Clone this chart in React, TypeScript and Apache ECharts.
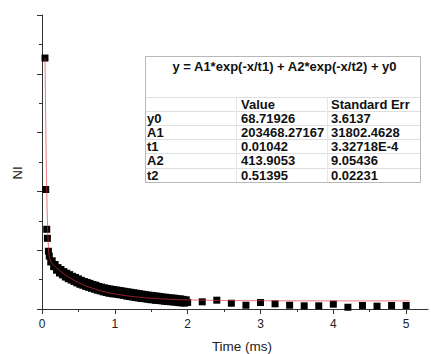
import React, { useEffect, useRef } from "react";
import * as echarts from "echarts";

// ---- data ----
const scatterX = [
  0.041, 0.051, 0.065, 0.074, 0.088,
  0.10, 0.12, 0.14, 0.16, 0.18, 0.20, 0.22, 0.24, 0.26, 0.28,
  0.30, 0.32, 0.34, 0.36, 0.38, 0.40, 0.42, 0.44, 0.46, 0.48,
  0.50, 0.52, 0.54, 0.56, 0.58, 0.60, 0.62, 0.64, 0.66, 0.68,
  0.70, 0.72, 0.74, 0.76, 0.78, 0.80, 0.82, 0.84, 0.86, 0.88,
  0.90, 0.92, 0.94, 0.96, 0.98, 1.00, 1.02, 1.04, 1.06, 1.08,
  1.10, 1.12, 1.14, 1.16, 1.18, 1.20, 1.22, 1.24, 1.26, 1.28,
  1.30, 1.32, 1.34, 1.36, 1.38, 1.40, 1.42, 1.44, 1.46, 1.48,
  1.50, 1.52, 1.54, 1.56, 1.58, 1.60, 1.62, 1.64, 1.66, 1.68,
  1.70, 1.72, 1.74, 1.76, 1.78, 1.80, 1.82, 1.84, 1.86, 1.88,
  1.90, 1.92, 1.94, 1.96, 1.98, 2.00,
  2.2, 2.4, 2.6, 2.8, 3.0, 3.2, 3.4, 3.6, 3.8, 4.0, 4.2, 4.4, 4.6, 4.8, 5.0,
];
const scatterY = [
  2134, 1016, 678, 601, 491,
  450, 400, 410, 360, 378, 330, 352, 306, 336, 290,
  318, 272, 304, 258, 292, 246, 278, 234, 268, 222,
  256, 210, 244, 202, 234, 192, 226, 184, 218, 176,
  208, 168, 202, 160, 192, 154, 186, 146, 180, 140,
  174, 134, 170, 130, 166, 128, 162, 124, 158, 120,
  154, 116, 150, 110, 146, 106, 142, 102, 138, 98,
  134, 94, 130, 90, 126, 88, 122, 84, 118, 80,
  116, 78, 112, 74, 110, 72, 106, 70, 102, 66,
  100, 64, 96, 62, 94, 60, 92, 58, 88, 54,
  86, 52, 82, 50, 78, 56,
  61, 75, 49, 32, 55, 44, 32, 27, 27, 41, 15, 30, 24, 30, 30,
];

const fitX = [
  0.041, 0.05, 0.06, 0.07, 0.08, 0.09, 0.10, 0.12, 0.14, 0.16, 0.18, 0.20,
  0.25, 0.30, 0.35, 0.40, 0.45, 0.50, 0.60, 0.70, 0.80, 0.90, 1.00, 1.20,
  1.40, 1.60, 1.80, 2.00, 2.50, 3.00, 4.00, 5.05,
];
const fitY = [
  2134, 1650, 1180, 850, 640, 500, 440, 405, 384, 372, 360, 349,
  323, 300, 278, 259, 241, 225, 197, 175, 156, 140, 128, 109,
  96, 87, 81, 77, 72, 70, 69, 69,
];

const xMajorTicks = [0, 1, 2, 3, 4, 5];
const xMinorTicks = [0.5, 1.5, 2.5, 3.5, 4.5];

const formulaText = "y = A1*exp(-x/t1) + A2*exp(-x/t2) + y0";
const tableHeaders = ["", "Value", "Standard Err"];
const paramNames = ["y0", "A1", "t1", "A2", "t2"];
const paramValues = ["68.71926", "203468.27167", "0.01042", "413.9053", "0.51395"];
const paramErrors = ["3.6137", "31802.4628", "3.32718E-4", "9.05436", "0.02231"];

const FONT = "'Liberation Sans', Arial, sans-serif";

export default function App() {
  const ref = useRef<HTMLDivElement>(null);

  useEffect(() => {
    if (!ref.current) return;
    const chart = echarts.init(ref.current, null, { renderer: "svg" });

    const scatterData = scatterX.map((x, i) => [x, scatterY[i]]);
    const fitData = fitX.map((x, i) => [x, fitY[i]]);

    // table geometry
    const tL = 145, tR = 420, tT = 56, tB = 182;
    const headerTop = 97;
    const rowH = 14.1;
    const colX = [147, 241, 331];
    const divX = [236.5, 327.5];
    const graphics: any[] = [];
    graphics.push({
      type: "rect",
      shape: { x: tL + 0.5, y: tT + 0.5, width: tR - tL, height: tB - tT },
      style: { fill: "#fff", stroke: "#b8b8b8", lineWidth: 1 },
      z: 10,
    });
    graphics.push({
      type: "text",
      style: {
        x: (tL + tR) / 2 + 2, y: 66, text: formulaText,
        font: `bold 13px ${FONT}`, fill: "#111",
        textAlign: "center", textVerticalAlign: "middle",
      },
      z: 11,
    });
    const rowLines = [headerTop];
    for (let i = 1; i <= paramNames.length; i++) rowLines.push(headerTop + rowH * i);
    rowLines.forEach((yy) => {
      const y = Math.round(yy) + 0.5;
      graphics.push({
        type: "line",
        shape: { x1: tL + 1, y1: y, x2: tR, y2: y },
        style: { stroke: "#dedede", lineWidth: 1 },
        z: 11,
      });
    });
    divX.forEach((x) => {
      graphics.push({
        type: "line",
        shape: { x1: x, y1: headerTop, x2: x, y2: tB },
        style: { stroke: "#e6e6e6", lineWidth: 1 },
        z: 11,
      });
    });
    const addText = (x: number, y: number, t: string) =>
      graphics.push({
        type: "text",
        style: {
          x, y, text: t, font: `bold 13px ${FONT}`, fill: "#111",
          textAlign: "left", textVerticalAlign: "middle",
        },
        z: 12,
      });
    tableHeaders.forEach((h, c) => { if (h) addText(colX[c], headerTop + rowH / 2 + 0.5, h); });
    paramNames.forEach((n, r) => {
      const y = headerTop + rowH * (r + 1) + rowH / 2 + 0.5;
      addText(colX[0], y, n);
      addText(colX[1], y, paramValues[r]);
      addText(colX[2], y, paramErrors[r]);
    });
    // axis names
    graphics.push({
      type: "text",
      style: {
        x: 242, y: 346, text: "Time (ms)", font: `13.5px ${FONT}`, fill: "#222",
        textAlign: "center", textVerticalAlign: "middle",
      },
    });
    graphics.push({
      type: "text",
      x: 17, y: 173, rotation: Math.PI / 2,
      style: {
        x: 0, y: 0, text: "NI", font: `13px ${FONT}`, fill: "#222",
        textAlign: "center", textVerticalAlign: "middle",
      },
    });

    const axisColor = "#333";
    chart.setOption({
      animation: false,
      backgroundColor: "#fff",
      grid: { left: 42, right: 3, top: 15, bottom: 45 },
      xAxis: [
        {
          type: "value", min: 0, max: 5.3, interval: 1,
          axisLine: { show: true, onZero: false, lineStyle: { color: axisColor, width: 1 } },
          axisTick: { show: true, length: 5, customValues: xMajorTicks, lineStyle: { color: axisColor } },
          axisLabel: {
            show: true, customValues: xMajorTicks, margin: 9,
            fontSize: 12, fontFamily: FONT, color: "#222",
          },
          splitLine: { show: false },
        },
        {
          type: "value", min: 0, max: 5.3, interval: 1, position: "bottom",
          axisLine: { show: false, onZero: false },
          axisTick: { show: true, length: 3, customValues: xMinorTicks, lineStyle: { color: axisColor } },
          axisLabel: { show: false },
          splitLine: { show: false },
        },
      ],
      yAxis: {
        type: "value", min: 0, max: 2500, interval: 500,
        axisLine: { show: true, onZero: false, lineStyle: { color: axisColor, width: 1 } },
        axisTick: { show: true, length: 5, lineStyle: { color: axisColor } },
        minorTick: { show: true, splitNumber: 2, length: 3, lineStyle: { color: axisColor } },
        axisLabel: { show: false },
        splitLine: { show: false },
        minorSplitLine: { show: false },
      },
      series: [
        {
          type: "scatter", xAxisIndex: 0, data: scatterData,
          symbol: "rect", symbolSize: 7,
          itemStyle: { color: "#000", opacity: 1 }, z: 2,
        },
        {
          type: "line", xAxisIndex: 0, data: fitData, showSymbol: false,
          symbol: "none", smooth: false,
          lineStyle: { color: "rgba(228,50,60,0.65)", width: 1 }, z: 3,
        },
      ],
      graphic: graphics,
    });

    return () => chart.dispose();
  }, []);

  return (
    <div
      ref={ref}
      style={{ position: "fixed", left: 0, top: 0, width: 431, height: 354, background: "#fff" }}
    />
  );
}
